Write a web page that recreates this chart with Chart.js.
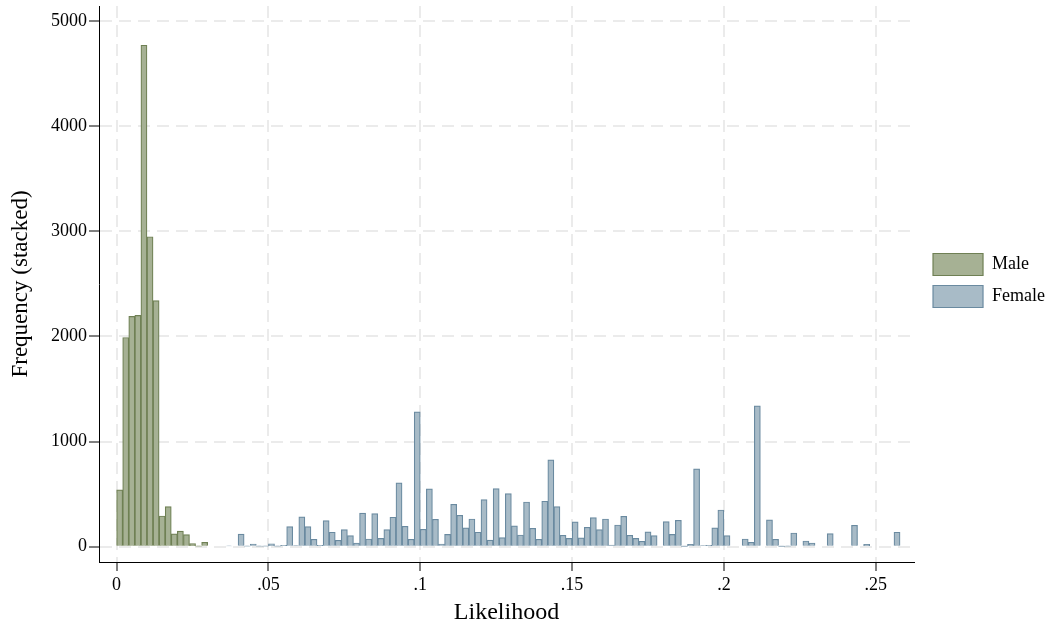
<!DOCTYPE html>
<html>
<head>
<meta charset="utf-8">
<script src="https://cdn.jsdelivr.net/npm/chart.js@4/dist/chart.umd.min.js"></script>
<style>
  html, body { margin: 0; background: #fff; }
  #wrap { width: 1057px; height: 629px; position: relative; }
</style>
</head>
<body>
<div id="wrap"><canvas id="chart"></canvas></div>
<script>
// histogram bins are 0.002 wide; counts start at the given bin index
const BIN = 0.002;
const maleStart = 0;
const maleCounts = [541, 1990, 2190, 2200, 4770, 2948, 2341, 292, 380, 121, 148, 115, 30, 5, 41];
const femaleStart = 18;
const femaleCounts = [
  8, null, 120, 5, 25, 4, 4, 28, 4, 13,
  190, 10, 283, 190, 70, 13, 248, 137, 60, 162,
  105, 35, 320, 73, 314, 79, 162, 280, 606, 194,
  70, 1283, 165, 549, 260, 25, 117, 403, 298, 178,
  263, 137, 448, 63, 552, 86, 505, 197, 111, 425,
  175, 70, 432, 825, 381, 108, 79, 235, 83, 184,
  276, 162, 263, 16, 206, 289, 108, 79, 51, 140,
  105, null, 238, 117, 251, 3, 22, 740, 10, 13,
  178, 349, 105, null, null, 73, 41, 1340, null, 254,
  70, 3, 5, 130, null, 54, 35, null, null, 124,
  null, null, null, 203, null, 22, null, null, null, null,
  137
];
const xTicks = [0, 0.05, 0.1, 0.15, 0.2, 0.25];
const yTicks = [0, 1000, 2000, 3000, 4000, 5000];

const FONT = 'Liberation Serif';
const GRID = '#ebebeb';

function toPoints(start, counts) {
  return counts
    .map((c, i) => c == null ? null : { x: (start + i) * BIN + BIN / 2, y: c })
    .filter(Boolean);
}

function fmtX(v) {
  if (v === 0) return '0';
  return String(Math.round(v * 100) / 100).replace(/^0/, '');
}

// nudge legend to where the original sits
const shiftLegend = {
  id: 'shiftLegend',
  afterLayout(chart) { chart.legend.left += 9; chart.legend.top -= 37; chart.legend.bottom -= 37; }
};

new Chart(document.getElementById('chart'), {
  type: 'bar',
  data: {
    datasets: [
      { label: 'Male', data: toPoints(maleStart, maleCounts),
        backgroundColor: '#a6b194', borderColor: '#6f8054', borderWidth: 1.2,
        barPercentage: 1, categoryPercentage: 1 },
      { label: 'Female', data: toPoints(femaleStart, femaleCounts),
        backgroundColor: '#a8bbc7', borderColor: '#6a8aa0', borderWidth: 1.2,
        barPercentage: 1, categoryPercentage: 1 },
    ]
  },
  options: {
    responsive: true,
    maintainAspectRatio: false,
    animation: false,
    layout: { padding: { top: 6, right: 11, left: 0, bottom: 0 } },
    plugins: {
      tooltip: { enabled: false },
      legend: {
        position: 'right',
        labels: { color: '#000', boxWidth: 50, boxHeight: 22, padding: 10,
                  font: { family: FONT, size: 18 } }
      }
    },
    scales: {
      x: {
        type: 'linear', stacked: true, offset: false,
        min: -0.0058, max: 0.2626,
        afterFit: s => { s.height = 67; },
        afterBuildTicks: s => { s.ticks = xTicks.map(v => ({ value: v })); },
        ticks: { color: '#000', font: { family: FONT, size: 18 }, padding: 3,
                 maxRotation: 0, callback: v => fmtX(v) },
        grid: { offset: false, color: GRID, lineWidth: 2, tickLength: 9,
                tickColor: '#000', tickWidth: 1, tickBorderDash: [] },
        border: { display: true, color: '#000', width: 1, dash: [12, 7] },
        title: { display: true, text: 'Likelihood', color: '#000',
                 font: { family: FONT, size: 24 }, padding: { top: 2, bottom: 2 } }
      },
      y: {
        stacked: true,
        min: -146, max: 5143,
        afterFit: s => { s.width = 99; s.paddingTop = 0; s.paddingBottom = 0; },
        afterBuildTicks: s => { s.ticks = yTicks.map(v => ({ value: v })); },
        ticks: { color: '#000', font: { family: FONT, size: 18 }, padding: 2,
                 callback: v => String(v) },
        grid: { color: GRID, lineWidth: 2, tickLength: 10,
                tickColor: '#000', tickWidth: 1, tickBorderDash: [] },
        border: { display: true, color: '#000', width: 1, dash: [12, 7] },
        title: { display: true, text: 'Frequency (stacked)', color: '#000',
                 font: { family: FONT, size: 23 }, padding: { top: 7, bottom: 4 } }
      }
    }
  },
  plugins: [shiftLegend]
});
</script>
</body>
</html>
